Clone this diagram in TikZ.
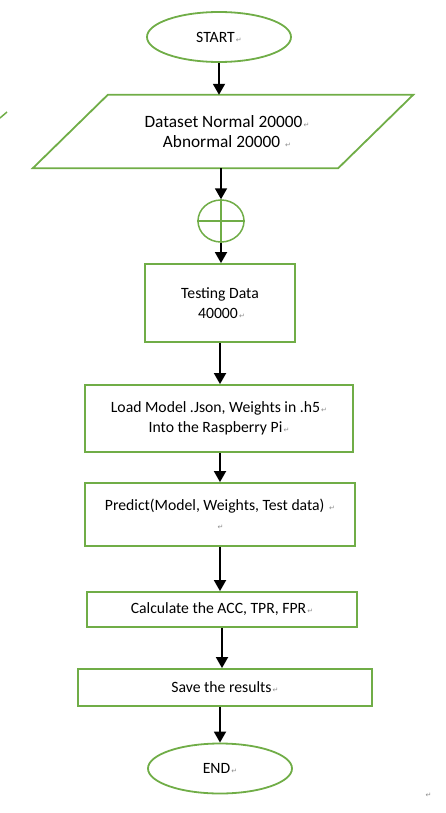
\documentclass[tikz,border=0pt]{standalone}
\usepackage{fontspec}
\setmainfont{Carlito}
\newfontfamily\marksymfont{DejaVu Sans}
\usetikzlibrary{shapes.geometric,arrows.meta,calc}

\definecolor{boxgreen}{RGB}{112,173,71}
\newcommand{\pmark}{{\marksymfont\color{black!45}\fontsize{7}{7}\selectfont\,↵}}

\begin{document}
\begin{tikzpicture}[x=1pt,y=-1pt,
	font=\fontsize{15.7}{19.5}\selectfont,
	term/.style={ellipse, draw=boxgreen, line width=1.8pt, minimum width=144pt, minimum height=50pt, inner sep=0pt},
	proc/.style={rectangle, draw=boxgreen, line width=1.8pt, inner sep=0pt, align=center},
	arr/.style={-{Triangle[length=11pt,width=12pt]}, line width=1.8pt}]

	\useasboundingbox (0,0) rectangle (445,813);

	% Nodes
	\node[term] (start) at (219,37) {START\pmark};
	\node[inner sep=0pt, minimum width=380pt, minimum height=73pt, align=center,
		font=\fontsize{17.3}{20}\selectfont] (data) at (223,131.5)
		{\hspace*{8pt}Dataset Normal 20000\pmark\\ \hspace*{8pt}Abnormal 20000 \pmark};
	\node[ellipse, draw=boxgreen, line width=1.5pt, minimum width=46pt, minimum height=42pt, inner sep=0pt] (join) at (221,221) {};
	\node[proc, minimum width=150pt, minimum height=78pt] (test) at (220,303) {Testing Data\\ \hspace*{3pt}40000\pmark};
	\node[proc, minimum width=268pt, minimum height=67pt] (load) at (219,418.5) {Load Model .Json, Weights in .h5\pmark\\ Into the Raspberry Pi\pmark};
	\node[proc, minimum width=270pt, minimum height=63pt] (pred) at (220,514.5) {Predict(Model, Weights, Test data) \pmark\\ \pmark};
	\node[proc, minimum width=270pt, minimum height=35pt] (calc) at (222,609.5) {Calculate the ACC, TPR, FPR\pmark};
	\node[proc, minimum width=294pt, minimum height=37pt] (save) at (225,687.5) {Save the results\pmark};
	\node[term] (end) at (220,768.5) {END\pmark};
	\node[inner sep=0pt] (mark) at (428,795) {\pmark};

	% Data parallelogram
	\draw[boxgreen, line width=1.8pt] (data.south west) -- ($(data.north west)+(75,0)$)
		-- (data.north east) -- ($(data.south east)+(-75,0)$) -- cycle;

	% Junction cross
	\draw[boxgreen, line width=1.5pt] (join.north) -- (join.south) (join.west) -- (join.east);

	% Edge of a shape cut off at the left
	\draw[boxgreen, line width=1.5pt] (0,118) -- (7,112);

	% Connectors
	\draw[arr] (start.south) -- (start.south |- data.north);
	\draw[arr] (join.north |- data.south) -- (join.north);
	\draw[arr] (join.south) -- (join.south |- test.north);
	\draw[arr] (test.south) -- (test.south |- load.north);
	\draw[arr] (pred.north |- load.south) -- (pred.north);
	\draw[arr] (pred.south) -- (pred.south |- calc.north);
	\draw[arr] (calc.south) -- (calc.south |- save.north);
	\draw[arr] (end.north |- save.south) -- (end.north);
\end{tikzpicture}
\end{document}
